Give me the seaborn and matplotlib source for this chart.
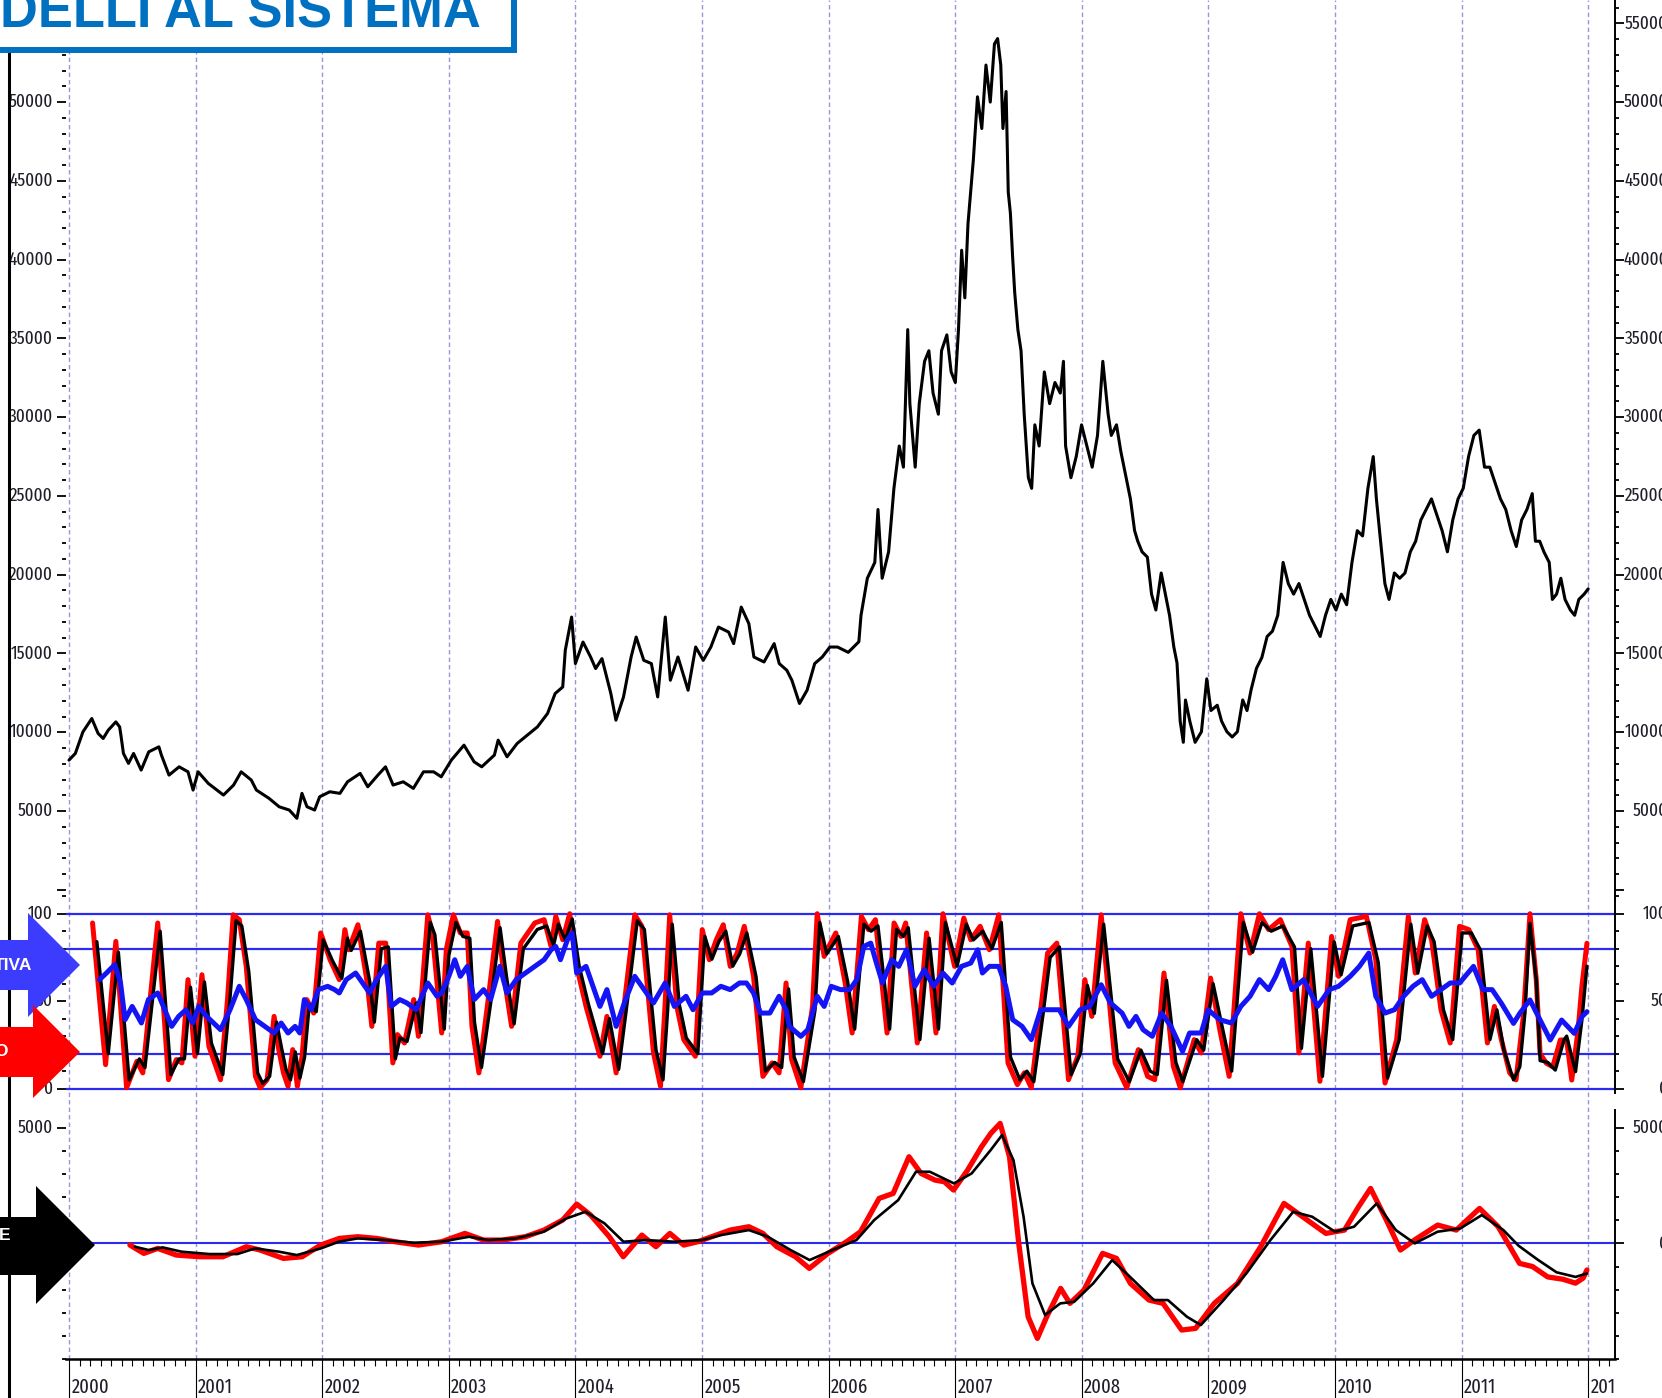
import numpy as np
import matplotlib
matplotlib.use("Agg")
import matplotlib.pyplot as plt
import matplotlib.transforms as mtransforms
from matplotlib.patches import Polygon, Rectangle
from matplotlib.lines import Line2D
from matplotlib.ticker import FixedLocator, MultipleLocator
import seaborn as sns

# ------------------------------------------------------------------ data
years = list(range(2000, 2013))
year_labels = [str(y) for y in years]

price_ticks = list(range(5000, 55001, 5000))
price_tick_labels = [str(v) for v in price_ticks]
osc_ticks = [0, 50, 100]
osc_tick_labels = ["0", "50", "100"]
osc_levels = [0, 20, 80, 100]
macd_ticks = [0, 5000]
macd_tick_labels = ["0", "5000"]

title_text = "DELLI AL SISTEMA"
arrow_texts = ["TIVA", "O", "E"]

price = [
    (2000.00, 8232), (2000.05, 8656), (2000.11, 10025), (2000.18, 10873), (2000.23, 9924),
    (2000.27, 9607), (2000.31, 10133), (2000.37, 10659), (2000.40, 10342), (2000.41, 9816),
    (2000.43, 8656), (2000.47, 8023), (2000.51, 8656), (2000.57, 7598), (2000.63, 8757),
    (2000.71, 9075), (2000.73, 8550), (2000.79, 7281), (2000.87, 7807), (2000.94, 7490),
    (2000.98, 6331), (2001.02, 7490), (2001.10, 6755), (2001.22, 6014), (2001.30, 6648),
    (2001.36, 7490), (2001.44, 6965), (2001.48, 6331), (2001.58, 5805), (2001.66, 5272),
    (2001.74, 5063), (2001.80, 4537), (2001.84, 6122), (2001.88, 5272), (2001.94, 5063),
    (2001.98, 5906), (2002.06, 6223), (2002.14, 6122), (2002.20, 6857), (2002.30, 7389),
    (2002.36, 6540), (2002.44, 7281), (2002.50, 7807), (2002.56, 6648), (2002.64, 6857),
    (2002.72, 6438), (2002.80, 7490), (2002.88, 7490), (2002.94, 7173), (2003.02, 8232),
    (2003.12, 9182), (2003.20, 8124), (2003.26, 7807), (2003.36, 8550), (2003.39, 9499),
    (2003.46, 8444), (2003.54, 9290), (2003.62, 9816), (2003.70, 10342), (2003.78, 11191),
    (2003.84, 12458), (2003.90, 12877), (2003.92, 15203), (2003.97, 17313), (2004.00, 14360),
    (2004.06, 15729), (2004.12, 14778), (2004.16, 14043), (2004.21, 14676), (2004.24, 13726),
    (2004.28, 12458), (2004.32, 10767), (2004.38, 12243), (2004.44, 14778), (2004.48, 16045),
    (2004.54, 14569), (2004.60, 14360), (2004.65, 12243), (2004.71, 17313), (2004.75, 13301),
    (2004.81, 14778), (2004.89, 12668), (2004.95, 15412), (2005.01, 14569), (2005.07, 15412),
    (2005.13, 16679), (2005.21, 16362), (2005.25, 15627), (2005.31, 17947), (2005.37, 16894),
    (2005.41, 14778), (2005.49, 14461), (2005.57, 15627), (2005.61, 14360), (2005.67, 13935),
    (2005.71, 13301), (2005.77, 11825), (2005.83, 12668), (2005.89, 14360), (2005.95, 14778),
    (2006.01, 15412), (2006.071, 15409), (2006.155, 15073), (2006.239, 15745), (2006.256, 17424),
    (2006.306, 19775), (2006.365, 20782), (2006.390, 24141), (2006.423, 19775), (2006.474, 21454),
    (2006.516, 25484), (2006.558, 28171), (2006.591, 26828), (2006.625, 35560), (2006.642, 30858),
    (2006.684, 26828), (2006.716, 30858), (2006.758, 33545), (2006.792, 34217), (2006.825, 31530),
    (2006.867, 30187), (2006.892, 34217), (2006.934, 35224), (2006.968, 32873), (2007.001, 32201),
    (2007.026, 35560), (2007.051, 40597), (2007.076, 37575), (2007.101, 42277), (2007.143, 46307),
    (2007.176, 50337), (2007.210, 48322), (2007.243, 52352), (2007.277, 50001), (2007.310, 53695),
    (2007.335, 54031), (2007.360, 52352), (2007.377, 48322), (2007.402, 50673), (2007.419, 44292),
    (2007.436, 42949), (2007.453, 40262), (2007.470, 37911), (2007.495, 35560), (2007.520, 34217),
    (2007.545, 30187), (2007.578, 26157), (2007.604, 25484), (2007.629, 29515), (2007.663, 28171),
    (2007.704, 32873), (2007.746, 30858), (2007.788, 32201), (2007.830, 31530), (2007.855, 33545),
    (2007.872, 28171), (2007.914, 26157), (2007.956, 27500), (2007.998, 29515), (2008.040, 28171),
    (2008.082, 26828), (2008.124, 28843), (2008.166, 33545), (2008.208, 30187), (2008.233, 28843),
    (2008.274, 29515), (2008.308, 27836), (2008.350, 26157), (2008.384, 24813), (2008.417, 22798),
    (2008.442, 22127), (2008.476, 21454), (2008.518, 21118), (2008.551, 18767), (2008.585, 17760),
    (2008.627, 20111), (2008.668, 18432), (2008.693, 17424), (2008.727, 15409), (2008.752, 14401),
    (2008.777, 10707), (2008.802, 9363), (2008.819, 12050), (2008.853, 10707), (2008.895, 9363),
    (2008.945, 10035), (2008.987, 13394), (2009.020, 11379), (2009.070, 11715), (2009.104, 10707),
    (2009.146, 10035), (2009.188, 9699), (2009.229, 10035), (2009.271, 12050), (2009.305, 11379),
    (2009.338, 12722), (2009.380, 14066), (2009.422, 14737), (2009.464, 16081), (2009.506, 16417),
    (2009.548, 17424), (2009.590, 20782), (2009.631, 19439), (2009.673, 18767), (2009.715, 19439),
    (2009.757, 18432), (2009.799, 17424), (2009.841, 16753), (2009.883, 16081), (2009.925, 17424),
    (2009.967, 18432), (2010.008, 17760), (2010.050, 18767), (2010.092, 18096), (2010.134, 20782),
    (2010.176, 22798), (2010.218, 22462), (2010.260, 25484), (2010.302, 27500), (2010.327, 24813),
    (2010.360, 22127), (2010.394, 19439), (2010.427, 18432), (2010.469, 20111), (2010.511, 19775),
    (2010.553, 20111), (2010.595, 21454), (2010.637, 22127), (2010.678, 23470), (2010.720, 24141),
    (2010.762, 24813), (2010.804, 23806), (2010.846, 22798), (2010.888, 21454), (2010.930, 23470),
    (2010.972, 24813), (2011.013, 25484), (2011.055, 27500), (2011.097, 28843), (2011.139, 29179),
    (2011.181, 26828), (2011.223, 26828), (2011.265, 25820), (2011.307, 24813), (2011.349, 24141),
    (2011.391, 22798), (2011.432, 21790), (2011.474, 23470), (2011.516, 24141), (2011.558, 25148),
    (2011.583, 22127), (2011.617, 22127), (2011.650, 21454), (2011.692, 20782), (2011.717, 18432),
    (2011.750, 18767), (2011.784, 19775), (2011.817, 18432), (2011.859, 17760), (2011.893, 17424),
    (2011.926, 18432), (2011.968, 18767), (2012.000, 19103),
]

osc_red = [
    (2000.186, 94.7), (2000.289, 13.7), (2000.370, 84.2), (2000.455, 0.5), (2000.536, 15.6),
    (2000.583, 9.0), (2000.701, 94.7), (2000.786, 5.1), (2000.848, 16.6), (2000.892, 14.7),
    (2000.940, 62.3), (2000.995, 18.5), (2001.050, 65.1), (2001.105, 24.2), (2001.197, 5.1),
    (2001.252, 50.9), (2001.297, 99.4), (2001.345, 96.6), (2001.400, 69.9), (2001.473, 7.0),
    (2001.510, 0.5), (2001.565, 5.1), (2001.620, 41.3), (2001.657, 22.3), (2001.694, 9.0),
    (2001.730, 1.3), (2001.767, 22.3), (2001.804, 1.3), (2001.841, 18.5), (2001.878, 50.9),
    (2001.933, 43.2), (2001.988, 89.0), (2002.062, 73.7), (2002.135, 62.3), (2002.179, 90.9),
    (2002.209, 79.4), (2002.282, 93.7), (2002.356, 60.4), (2002.392, 35.6), (2002.447, 83.2),
    (2002.502, 83.2), (2002.558, 14.7), (2002.594, 30.9), (2002.650, 26.1), (2002.723, 50.9),
    (2002.760, 29.9), (2002.834, 99.4), (2002.870, 89.0), (2002.944, 31.8), (2002.980, 79.4),
    (2003.036, 99.4), (2003.091, 89.0), (2003.146, 89.0), (2003.183, 35.6), (2003.238, 9.0),
    (2003.311, 50.9), (2003.385, 95.6), (2003.440, 62.3), (2003.496, 35.6), (2003.569, 83.2),
    (2003.679, 94.7), (2003.753, 96.6), (2003.808, 81.3), (2003.845, 98.5), (2003.900, 85.1),
    (2003.955, 100.0), (2004.010, 69.9), (2004.084, 47.0), (2004.194, 18.5), (2004.249, 41.3),
    (2004.322, 9.0), (2004.396, 54.7), (2004.469, 99.4), (2004.525, 92.8), (2004.617, 20.4),
    (2004.672, 1.3), (2004.709, 49.0), (2004.745, 99.4), (2004.801, 47.0), (2004.856, 28.0),
    (2004.947, 18.5), (2005.002, 90.9), (2005.058, 73.7), (2005.113, 85.1), (2005.168, 93.7),
    (2005.223, 69.9), (2005.278, 77.5), (2005.334, 92.8), (2005.407, 64.2), (2005.481, 7.0),
    (2005.554, 14.7), (2005.609, 9.0), (2005.664, 60.4), (2005.708, 16.6), (2005.781, 0.5),
    (2005.873, 47.0), (2005.910, 100.0), (2005.965, 75.6), (2006.002, 81.3), (2006.057, 89.0),
    (2006.131, 60.4), (2006.186, 31.8), (2006.259, 98.5), (2006.315, 90.9), (2006.370, 96.6),
    (2006.462, 31.8), (2006.517, 94.7), (2006.572, 87.0), (2006.609, 94.7), (2006.701, 26.1),
    (2006.774, 89.0), (2006.848, 31.8), (2006.903, 100.0), (2006.995, 69.9), (2007.068, 97.5),
    (2007.123, 85.1), (2007.197, 92.8), (2007.270, 79.4), (2007.344, 99.4), (2007.417, 14.7),
    (2007.491, 2.3), (2007.546, 9.0), (2007.601, 0.5), (2007.675, 45.1), (2007.730, 77.5),
    (2007.803, 83.2), (2007.895, 5.1), (2007.969, 18.5), (2008.024, 62.3), (2008.079, 41.3),
    (2008.153, 99.4), (2008.263, 14.7), (2008.355, 0.5), (2008.447, 22.3), (2008.520, 7.0),
    (2008.576, 5.1), (2008.649, 66.1), (2008.723, 12.8), (2008.778, 0.5), (2008.888, 28.0),
    (2008.943, 20.4), (2009.017, 63.2), (2009.090, 33.7), (2009.164, 7.0), (2009.256, 100.0),
    (2009.329, 77.5), (2009.403, 100.0), (2009.476, 90.9), (2009.568, 96.6), (2009.660, 81.3),
    (2009.715, 20.4), (2009.789, 83.2), (2009.881, 4.2), (2009.973, 87.0), (2010.028, 64.2),
    (2010.120, 96.6), (2010.248, 98.5), (2010.322, 73.7), (2010.395, 3.2), (2010.487, 28.0),
    (2010.579, 98.5), (2010.634, 66.1), (2010.708, 96.6), (2010.763, 85.1), (2010.837, 45.1),
    (2010.910, 26.1), (2010.984, 92.8), (2011.057, 90.9), (2011.131, 79.4), (2011.204, 26.1),
    (2011.259, 47.0), (2011.314, 28.0), (2011.380, 9.0), (2011.430, 5.0), (2011.490, 43.0),
    (2011.540, 100.0), (2011.590, 62.0), (2011.620, 20.0), (2011.670, 14.5), (2011.720, 12.5),
    (2011.780, 27.8), (2011.830, 27.8), (2011.870, 4.9), (2011.920, 33.5), (2011.950, 58.3),
    (2011.990, 83.1),
]

osc_black = [
    (2000.220, 84.0), (2000.310, 20.0), (2000.390, 78.0), (2000.475, 5.0), (2000.556, 17.0),
    (2000.600, 12.0), (2000.720, 90.0), (2000.805, 8.0), (2000.868, 17.0), (2000.912, 17.0),
    (2000.960, 58.0), (2001.015, 20.0), (2001.070, 61.0), (2001.125, 26.0), (2001.215, 8.0),
    (2001.270, 50.0), (2001.320, 96.0), (2001.365, 93.0), (2001.420, 67.0), (2001.490, 9.0),
    (2001.530, 3.0), (2001.585, 7.0), (2001.640, 38.0), (2001.677, 24.0), (2001.714, 11.0),
    (2001.750, 5.0), (2001.787, 21.0), (2001.824, 6.0), (2001.861, 18.0), (2001.898, 48.0),
    (2001.953, 44.0), (2002.008, 85.0), (2002.082, 73.0), (2002.155, 63.0), (2002.199, 86.0),
    (2002.229, 79.0), (2002.302, 90.0), (2002.376, 61.0), (2002.412, 38.0), (2002.467, 80.0),
    (2002.522, 81.0), (2002.578, 17.0), (2002.614, 29.0), (2002.670, 27.0), (2002.743, 49.0),
    (2002.780, 32.0), (2002.854, 95.0), (2002.890, 88.0), (2002.964, 34.0), (2003.000, 76.0),
    (2003.056, 95.0), (2003.111, 87.0), (2003.166, 86.0), (2003.203, 38.0), (2003.258, 12.0),
    (2003.331, 49.0), (2003.405, 92.0), (2003.460, 62.0), (2003.516, 37.0), (2003.589, 80.0),
    (2003.699, 91.0), (2003.773, 93.0), (2003.828, 82.0), (2003.865, 94.0), (2003.920, 85.0),
    (2003.975, 97.0), (2004.030, 70.0), (2004.104, 48.0), (2004.214, 20.0), (2004.269, 40.0),
    (2004.342, 11.0), (2004.416, 53.0), (2004.489, 96.0), (2004.545, 91.0), (2004.637, 22.0),
    (2004.692, 5.0), (2004.729, 45.0), (2004.765, 94.0), (2004.821, 48.0), (2004.876, 29.0),
    (2004.967, 20.0), (2005.022, 87.0), (2005.078, 74.0), (2005.133, 84.0), (2005.188, 90.0),
    (2005.243, 70.0), (2005.298, 77.0), (2005.354, 89.0), (2005.427, 64.0), (2005.501, 10.0),
    (2005.574, 15.0), (2005.629, 12.0), (2005.684, 57.0), (2005.728, 18.0), (2005.801, 4.0),
    (2005.893, 45.0), (2005.930, 95.0), (2005.985, 77.0), (2006.022, 81.0), (2006.077, 87.0),
    (2006.151, 61.0), (2006.206, 34.0), (2006.279, 94.0), (2006.335, 90.0), (2006.390, 93.0),
    (2006.482, 34.0), (2006.537, 91.0), (2006.592, 87.0), (2006.629, 92.0), (2006.721, 28.0),
    (2006.794, 86.0), (2006.868, 34.0), (2006.923, 95.0), (2007.015, 70.0), (2007.088, 94.0),
    (2007.143, 85.0), (2007.217, 90.0), (2007.290, 80.0), (2007.364, 95.0), (2007.437, 18.0),
    (2007.511, 5.0), (2007.566, 10.0), (2007.621, 4.0), (2007.695, 43.0), (2007.750, 75.0),
    (2007.823, 81.0), (2007.915, 8.0), (2007.989, 20.0), (2008.044, 59.0), (2008.099, 43.0),
    (2008.173, 94.0), (2008.283, 17.0), (2008.375, 4.0), (2008.467, 22.0), (2008.540, 10.0),
    (2008.596, 8.0), (2008.669, 62.0), (2008.743, 15.0), (2008.798, 4.0), (2008.908, 28.0),
    (2008.963, 22.0), (2009.037, 60.0), (2009.110, 35.0), (2009.184, 10.0), (2009.276, 95.0),
    (2009.349, 78.0), (2009.423, 95.0), (2009.496, 90.0), (2009.588, 93.0), (2009.680, 81.0),
    (2009.735, 23.0), (2009.809, 80.0), (2009.901, 7.0), (2009.993, 84.0), (2010.048, 65.0),
    (2010.140, 93.0), (2010.268, 95.0), (2010.342, 72.0), (2010.415, 6.0), (2010.507, 28.0),
    (2010.599, 94.0), (2010.654, 66.0), (2010.728, 93.0), (2010.783, 84.0), (2010.857, 45.0),
    (2010.930, 28.0), (2011.004, 89.0), (2011.077, 89.0), (2011.151, 79.0), (2011.224, 28.0),
    (2011.279, 45.0), (2011.334, 22.0), (2011.410, 5.0), (2011.460, 12.5), (2011.500, 43.0),
    (2011.540, 94.5), (2011.590, 62.0), (2011.620, 16.0), (2011.680, 15.0), (2011.740, 10.6),
    (2011.810, 28.0), (2011.830, 30.0), (2011.900, 9.7), (2011.950, 39.0), (2011.990, 70.0),
]

osc_blue = [
    (2000.241, 62.3), (2000.296, 66.1), (2000.362, 70.9), (2000.407, 60.4), (2000.443, 39.4),
    (2000.499, 47.0), (2000.572, 37.5), (2000.627, 50.9), (2000.701, 54.7), (2000.756, 45.1),
    (2000.811, 35.6), (2000.866, 41.3), (2000.924, 45.1), (2000.977, 37.5), (2001.025, 47.0),
    (2001.087, 41.3), (2001.197, 33.7), (2001.272, 45.1), (2001.345, 58.5), (2001.400, 50.9),
    (2001.473, 39.4), (2001.547, 35.6), (2001.620, 31.8), (2001.676, 37.5), (2001.730, 31.8),
    (2001.786, 35.6), (2001.823, 31.8), (2001.859, 50.9), (2001.914, 45.1), (2001.969, 56.6),
    (2002.043, 58.5), (2002.098, 56.6), (2002.135, 54.7), (2002.190, 62.3), (2002.264, 66.1),
    (2002.337, 58.5), (2002.374, 54.7), (2002.429, 62.3), (2002.502, 69.9), (2002.546, 47.0),
    (2002.613, 50.9), (2002.668, 49.0), (2002.742, 45.1), (2002.834, 60.4), (2002.907, 52.8),
    (2002.944, 54.7), (2003.000, 64.2), (2003.047, 73.7), (2003.091, 64.2), (2003.146, 69.9),
    (2003.201, 50.9), (2003.275, 56.6), (2003.330, 50.9), (2003.403, 69.9), (2003.459, 54.7),
    (2003.532, 62.3), (2003.606, 66.1), (2003.679, 69.9), (2003.753, 73.7), (2003.808, 79.4),
    (2003.845, 81.3), (2003.882, 73.7), (2003.937, 85.1), (2003.974, 89.0), (2004.010, 66.1),
    (2004.084, 69.9), (2004.139, 58.5), (2004.194, 47.0), (2004.249, 56.6), (2004.322, 35.6),
    (2004.396, 50.9), (2004.469, 64.2), (2004.543, 56.6), (2004.617, 49.0), (2004.709, 60.4),
    (2004.782, 47.0), (2004.874, 52.8), (2004.929, 45.1), (2005.002, 54.7), (2005.076, 54.7),
    (2005.149, 58.5), (2005.223, 56.6), (2005.296, 60.4), (2005.351, 60.4), (2005.407, 54.7),
    (2005.462, 43.2), (2005.536, 43.2), (2005.609, 52.8), (2005.664, 45.1), (2005.690, 35.6),
    (2005.781, 29.9), (2005.836, 33.7), (2005.910, 52.8), (2005.965, 47.0), (2006.020, 58.5),
    (2006.094, 56.6), (2006.167, 56.6), (2006.223, 62.3), (2006.278, 81.3), (2006.333, 83.2),
    (2006.370, 73.7), (2006.425, 60.4), (2006.498, 73.7), (2006.554, 69.9), (2006.616, 79.4),
    (2006.682, 58.5), (2006.756, 68.0), (2006.829, 58.5), (2006.903, 66.1), (2006.976, 60.4),
    (2007.050, 69.9), (2007.123, 71.8), (2007.178, 79.4), (2007.215, 66.1), (2007.270, 69.9),
    (2007.344, 69.9), (2007.399, 58.5), (2007.454, 39.4), (2007.528, 35.6), (2007.601, 28.0),
    (2007.675, 45.1), (2007.748, 45.1), (2007.822, 45.1), (2007.895, 35.6), (2007.987, 45.1),
    (2008.061, 47.0), (2008.153, 59.4), (2008.226, 49.0), (2008.318, 43.2), (2008.373, 35.6),
    (2008.428, 41.3), (2008.484, 33.7), (2008.557, 29.9), (2008.631, 43.2), (2008.704, 35.6),
    (2008.796, 21.3), (2008.851, 31.8), (2008.943, 31.8), (2008.998, 45.1), (2009.090, 39.4),
    (2009.182, 37.5), (2009.256, 47.0), (2009.329, 52.8), (2009.403, 62.3), (2009.476, 56.6),
    (2009.532, 64.2), (2009.587, 73.7), (2009.660, 56.6), (2009.752, 62.3), (2009.862, 47.0),
    (2009.954, 56.6), (2010.028, 58.5), (2010.120, 64.2), (2010.193, 69.9), (2010.267, 77.5),
    (2010.322, 52.8), (2010.395, 43.2), (2010.469, 45.1), (2010.542, 52.8), (2010.616, 58.5),
    (2010.689, 62.3), (2010.763, 52.8), (2010.837, 56.6), (2010.910, 60.4), (2010.984, 60.4),
    (2011.094, 69.9), (2011.168, 56.6), (2011.241, 56.6), (2011.314, 48.8), (2011.410, 37.3),
    (2011.460, 43.1), (2011.540, 50.7), (2011.620, 39.2), (2011.700, 27.8), (2011.790, 39.2),
    (2011.890, 31.6), (2011.950, 41.1), (2011.990, 44.0),
]

macd_red = [
    (2000.481, -72), (2000.591, -432), (2000.701, -216), (2000.848, -505), (2001.032, -577),
    (2001.216, -577), (2001.400, -144), (2001.510, -288), (2001.694, -649), (2001.841, -577),
    (2001.988, -72), (2002.135, 216), (2002.282, 288), (2002.429, 216), (2002.576, 72),
    (2002.760, -72), (2002.943, 72), (2003.127, 432), (2003.274, 144), (2003.421, 144),
    (2003.605, 288), (2003.752, 577), (2003.899, 1009), (2004.010, 1701), (2004.120, 1226),
    (2004.268, 288), (2004.378, -577), (2004.525, 360), (2004.636, -144), (2004.746, 432),
    (2004.856, -72), (2004.966, 72), (2005.076, 288), (2005.223, 577), (2005.370, 721),
    (2005.481, 432), (2005.591, -144), (2005.738, -577), (2005.848, -1081), (2005.995, -432),
    (2006.142, 72), (2006.252, 505), (2006.399, 1946), (2006.510, 2162), (2006.635, 3748),
    (2006.730, 3027), (2006.840, 2739), (2006.914, 2667), (2006.987, 2306), (2007.098, 3171),
    (2007.208, 4181), (2007.281, 4757), (2007.355, 5190), (2007.429, 3748), (2007.502, 0),
    (2007.576, -3171), (2007.649, -4108), (2007.723, -3171), (2007.833, -1946), (2007.906, -2595),
    (2008.017, -2018), (2008.164, -432), (2008.274, -649), (2008.384, -1730), (2008.531, -2451),
    (2008.642, -2595), (2008.789, -3748), (2008.899, -3676), (2009.046, -2595), (2009.230, -1730),
    (2009.413, -144), (2009.597, 1730), (2009.744, 1153), (2009.928, 432), (2010.075, 577),
    (2010.186, 1586), (2010.281, 2378), (2010.406, 1009), (2010.517, -288), (2010.627, 144),
    (2010.811, 793), (2010.958, 577), (2011.142, 1514), (2011.289, 721), (2011.458, -865),
    (2011.560, -1000), (2011.680, -1450), (2011.800, -1550), (2011.900, -1720), (2011.960, -1500),
    (2011.990, -1150),
]

macd_black = [
    (2000.52, -144), (2000.63, -288), (2000.74, -173), (2000.89, -360), (2001.11, -461),
    (2001.33, -461), (2001.47, -216), (2001.66, -360), (2001.80, -505), (2001.99, -216),
    (2002.13, 72), (2002.28, 216), (2002.50, 144), (2002.72, 29), (2002.94, 72),
    (2003.16, 288), (2003.31, 144), (2003.53, 216), (2003.75, 505), (2003.93, 1081),
    (2004.08, 1370), (2004.23, 865), (2004.38, 72), (2004.56, 144), (2004.78, 72),
    (2005.00, 144), (2005.15, 360), (2005.37, 577), (2005.52, 288), (2005.70, -288),
    (2005.85, -721), (2006.03, -288), (2006.22, 144), (2006.36, 1009), (2006.55, 1874),
    (2006.69, 3099), (2006.80, 3099), (2006.99, 2595), (2007.13, 3027), (2007.28, 4036),
    (2007.37, 4685), (2007.46, 3604), (2007.54, 1153), (2007.61, -1730), (2007.71, -3099),
    (2007.83, -2595), (2007.94, -2523), (2008.09, -1730), (2008.24, -721), (2008.38, -1442),
    (2008.57, -2451), (2008.68, -2451), (2008.83, -3171), (2008.94, -3532), (2009.12, -2451),
    (2009.30, -1297), (2009.49, 144), (2009.67, 1370), (2009.82, 1153), (2010.00, 505),
    (2010.15, 721), (2010.33, 1730), (2010.48, 577), (2010.63, 0), (2010.81, 505),
    (2010.99, 649), (2011.16, 1226), (2011.33, 577), (2011.45, -100), (2011.60, -700),
    (2011.75, -1250), (2011.90, -1450), (2011.99, -1300),
]

# ------------------------------------------------------------------ style
sns.set_style("white")
plt.rcParams["font.family"] = ["Fira Sans Extra Condensed", "Archivo Narrow", "DejaVu Sans"]
plt.rcParams["lines.solid_joinstyle"] = "round"
plt.rcParams["lines.solid_capstyle"] = "round"

W, H = 1662, 1398


def FX(px):
    return px / W


def FY(py):
    return 1 - py / H


fig = plt.figure(figsize=(W / 100, H / 100), dpi=100)
fig.patch.set_facecolor("white")

X0, X1 = 66, 1615
PPY = 126.6  # pixels per year
XL = 2000 - (69 - X0) / PPY
XR = 2000 + (X1 - 69) / PPY

ax_p = fig.add_axes([FX(X0), FY(900), FX(X1) - FX(X0), FY(0) - FY(900)])
ax_o = fig.add_axes([FX(X0), FY(1093), FX(X1) - FX(X0), FY(895) - FY(1093)])
ax_m = fig.add_axes([FX(X0), FY(1359), FX(X1) - FX(X0), FY(1110) - FY(1359)])

ax_p.set_ylim(-647, 56481)
ax_o.set_ylim(-2.5, 110.7)
ax_m.set_ylim(-5000, 5770)

RED = "#ff0000"
BLUE_LINE = "#1414f5"
LEVEL_BLUE = "#2b2bf0"
LABEL_COLOR = "#1f1f2a"
LABEL_SIZE = 13.5

for ax in (ax_p, ax_o, ax_m):
    ax.set_xlim(XL, XR)
    ax.set_facecolor("none")
    for s in ("top", "left", "bottom"):
        ax.spines[s].set_visible(False)
    ax.spines["right"].set_visible(True)
    ax.spines["right"].set_linewidth(1.4)
    ax.spines["right"].set_color("black")
    ax.tick_params(axis="y", which="both", left=True, right=True,
                   labelleft=False, labelright=False, direction="out", color="black")
    ax.tick_params(axis="y", which="major", length=6.5, width=1.3)
    ax.tick_params(axis="y", which="minor", length=3.2, width=1.3)
    ax.set_xlabel("")
    ax.set_ylabel("")

for ax in (ax_p, ax_o):
    ax.tick_params(axis="x", which="both", bottom=False, labelbottom=False)

pt, pv = zip(*price)
sns.lineplot(x=list(pt), y=list(pv), ax=ax_p, color="black", linewidth=2.2,
             estimator=None, sort=False)
ax_p.yaxis.set_major_locator(FixedLocator([0] + price_ticks))
ax_p.yaxis.set_minor_locator(MultipleLocator(1000))

for lev in osc_levels:
    ax_o.axhline(lev, color=LEVEL_BLUE, linewidth=1.6, zorder=1)
rt, rv = zip(*osc_red)
bt, bv = zip(*osc_black)
ut, uv = zip(*osc_blue)
sns.lineplot(x=list(rt), y=list(rv), ax=ax_o, color=RED, linewidth=3.6,
             estimator=None, sort=False, zorder=3)
sns.lineplot(x=list(bt), y=list(bv), ax=ax_o, color="black", linewidth=2.4,
             estimator=None, sort=False, zorder=4)
sns.lineplot(x=list(ut), y=list(uv), ax=ax_o, color=BLUE_LINE, linewidth=3.6,
             estimator=None, sort=False, zorder=5)
ax_o.yaxis.set_major_locator(FixedLocator(osc_ticks))
ax_o.yaxis.set_minor_locator(MultipleLocator(10))

ax_m.axhline(0, color=LEVEL_BLUE, linewidth=1.5, zorder=1)
mt, mv = zip(*macd_red)
kt, kv = zip(*macd_black)
sns.lineplot(x=list(mt), y=list(mv), ax=ax_m, color=RED, linewidth=3.8,
             estimator=None, sort=False, zorder=3)
sns.lineplot(x=list(kt), y=list(kv), ax=ax_m, color="black", linewidth=1.9,
             estimator=None, sort=False, zorder=4)
ax_m.yaxis.set_major_locator(FixedLocator(macd_ticks))
ax_m.yaxis.set_minor_locator(MultipleLocator(1000))

ax_m.spines["bottom"].set_visible(True)
ax_m.spines["bottom"].set_linewidth(1.8)
ax_m.spines["bottom"].set_color("black")
ax_m.xaxis.set_major_locator(FixedLocator(years))
ax_m.xaxis.set_minor_locator(FixedLocator([y + m / 12 for y in range(2000, 2013) for m in range(1, 12)]))
ax_m.tick_params(axis="x", which="major", bottom=True, length=29, width=0.8,
                 direction="out", color="black", labelbottom=False)
ax_m.tick_params(axis="x", which="minor", bottom=True, length=5, width=0.8,
                 direction="out", color="black")

tr_grid = mtransforms.blended_transform_factory(ax_m.transData, fig.transFigure)
for y in years:
    fig.add_artist(Line2D([y, y], [FY(1359), 1.0], transform=tr_grid,
                          color="#9898d8", linewidth=1.0, linestyle=(0, (3.2, 2.2)),
                          zorder=-1))


def y_labels(ax, vals, texts, skip_left=()):
    trl = mtransforms.blended_transform_factory(fig.transFigure, ax.transData)
    for v, t in zip(vals, texts):
        if v not in skip_left:
            fig.text(FX(53), v, t, transform=trl, ha="right", va="center",
                     fontsize=LABEL_SIZE, color=LABEL_COLOR, zorder=2)
        fig.text(FX(1668), v, t, transform=trl, ha="right", va="center",
                 fontsize=LABEL_SIZE, color=LABEL_COLOR, zorder=2)


# left 55000 sits under the title box in the reference
y_labels(ax_p, price_ticks, price_tick_labels, skip_left=(55000,))
y_labels(ax_o, osc_ticks, osc_tick_labels)
y_labels(ax_m, macd_ticks, macd_tick_labels)

clip = mtransforms.TransformedBbox(mtransforms.Bbox([[0, 0], [FX(1615), 1]]), fig.transFigure)
tr_year = mtransforms.blended_transform_factory(ax_m.transData, fig.transFigure)
for y, lab in zip(years, year_labels):
    t = fig.text(y + 2.5 / PPY, FY(1393), lab, transform=tr_year, ha="left", va="baseline",
                 fontsize=14.5, color=LABEL_COLOR, zorder=2)
    t.set_clip_on(True)
    t.set_clip_box(clip)

fig.add_artist(Line2D([FX(9), FX(9)], [0, FY(52)], transform=fig.transFigure,
                      color="black", linewidth=2.2, zorder=6))


def px_poly(points, color, z):
    pts = [(FX(x), FY(y)) for x, y in points]
    fig.add_artist(Polygon(pts, closed=True, transform=fig.transFigure,
                           facecolor=color, edgecolor="none", zorder=z))


px_poly([(-5, 940), (28, 940), (28, 913), (80, 965), (28, 1017), (28, 990), (-5, 990)], "#3c3cff", 7)
px_poly([(-5, 1027), (33, 1027), (33, 1005), (80, 1052), (33, 1098), (33, 1077), (-5, 1077)], RED, 8)
px_poly([(-5, 1217), (36, 1217), (36, 1186), (95, 1245), (36, 1304), (36, 1275), (-5, 1275)], "black", 8)

arrow_fam = ["Liberation Sans", "DejaVu Sans"]
fig.text(FX(32), FY(966), arrow_texts[0], ha="right", va="center", color="white",
         fontsize=12.5, fontweight="bold", family=arrow_fam, zorder=9)
fig.text(FX(8), FY(1052), arrow_texts[1], ha="right", va="center", color="white",
         fontsize=12.5, fontweight="bold", family=arrow_fam, zorder=9)
fig.text(FX(10), FY(1236), arrow_texts[2], ha="right", va="center", color="white",
         fontsize=12.5, fontweight="bold", family=arrow_fam, zorder=9)

fig.add_artist(Rectangle((FX(-40), FY(50)), FX(514) - FX(-40), FY(-40) - FY(50),
                         transform=fig.transFigure, facecolor="white", edgecolor="#0070c0",
                         linewidth=4.3, zorder=10))
fig.text(FX(0), FY(28), title_text, ha="left", va="baseline", color="#0070c0",
         fontsize=37.8, fontweight="bold", family=arrow_fam, zorder=11)

fig.savefig("out.png", dpi=100)
